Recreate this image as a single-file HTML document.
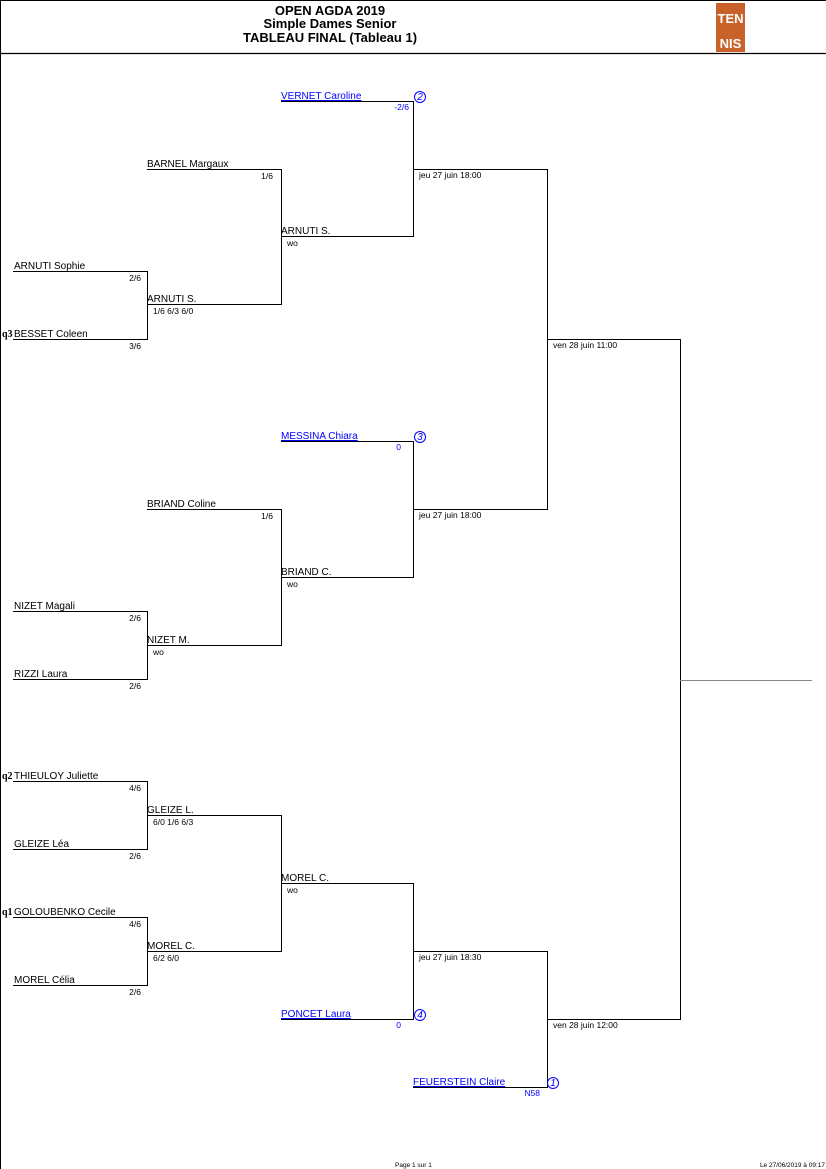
<!DOCTYPE html>
<html><head><meta charset="utf-8"><style>
body{margin:0;background:#fff}
svg{display:block}
text{font-family:"Liberation Sans",sans-serif;font-size:10px;fill:#000}
.s{font-size:8.5px}
.b{fill:#00f}
.h{font-weight:bold;font-size:13px}
</style></head><body>
<svg width="826" height="1169" viewBox="0 0 826 1169">
<g stroke="#000" stroke-width="1" fill="none">
<line x1="0.5" y1="0" x2="0.5" y2="1169"/>
<line x1="0" y1="0.5" x2="826" y2="0.5"/>
<line x1="0" y1="53.5" x2="826" y2="53.5" stroke-width="1.3"/>
<path d="M13 271.5H147.5V339.5H13M13 611.5H147.5V679.5H13M13 781.5H147.5V849.5H13M13 917.5H147.5V985.5H13"/>
<path d="M147 169.5H281.5V304.5H147M147 509.5H281.5V645.5H147M147 815.5H281.5V951.5H147"/>
<path d="M281 101.5H413.5V236.5H281M281 441.5H413.5V577.5H281M281 883.5H413.5V1019.5H281"/>
<path d="M413 169.5H547.5V509.5H413M413 951.5H547.5V1087.5H413"/>
<path d="M547 339.5H680.5V1019.5H547"/>
</g>
<line x1="680" y1="680.5" x2="812" y2="680.5" stroke="#888"/>
<rect x="716" y="3" width="29" height="49" fill="#c8622a"/>
<text x="730.5" y="23" text-anchor="middle" style="fill:#fff;font-weight:bold;font-size:13px">TEN</text>
<text x="730.5" y="48" text-anchor="middle" style="fill:#fff;font-weight:bold;font-size:13px">NIS</text>
<text class="h" x="330" y="15" text-anchor="middle">OPEN AGDA 2019</text>
<text class="h" x="330" y="28" text-anchor="middle">Simple Dames Senior</text>
<text class="h" x="330" y="42" text-anchor="middle">TABLEAU FINAL (Tableau 1)</text>

<text x="14" y="269">ARNUTI Sophie</text><text class="s" x="141" y="281" text-anchor="end">2/6</text>
<text x="14" y="337">BESSET Coleen</text><text class="s" x="141" y="349" text-anchor="end">3/6</text>
<text x="2" y="337" style="font-family:'Liberation Serif',serif;font-weight:bold;font-size:10px">q3</text>
<text x="14" y="609">NIZET Magali</text><text class="s" x="141" y="621" text-anchor="end">2/6</text>
<text x="14" y="677">RIZZI Laura</text><text class="s" x="141" y="689" text-anchor="end">2/6</text>
<text x="14" y="779">THIEULOY Juliette</text><text class="s" x="141" y="791" text-anchor="end">4/6</text>
<text x="2" y="779" style="font-family:'Liberation Serif',serif;font-weight:bold;font-size:10px">q2</text>
<text x="14" y="847">GLEIZE Léa</text><text class="s" x="141" y="859" text-anchor="end">2/6</text>
<text x="14" y="915">GOLOUBENKO Cecile</text><text class="s" x="141" y="927" text-anchor="end">4/6</text>
<text x="2" y="915" style="font-family:'Liberation Serif',serif;font-weight:bold;font-size:10px">q1</text>
<text x="14" y="983">MOREL Célia</text><text class="s" x="141" y="995" text-anchor="end">2/6</text>

<text x="147" y="167">BARNEL Margaux</text><text class="s" x="273" y="179" text-anchor="end">1/6</text>
<text x="147" y="302">ARNUTI S.</text><text class="s" x="153" y="314">1/6 6/3 6/0</text>
<text x="147" y="507">BRIAND Coline</text><text class="s" x="273" y="519" text-anchor="end">1/6</text>
<text x="147" y="643">NIZET M.</text><text class="s" x="153" y="655">wo</text>
<text x="147" y="813">GLEIZE L.</text><text class="s" x="153" y="825">6/0 1/6 6/3</text>
<text x="147" y="949">MOREL C.</text><text class="s" x="153" y="961">6/2 6/0</text>

<text class="b" x="281" y="99" text-decoration="underline">VERNET Caroline</text><text class="s b" x="409" y="110" text-anchor="end">-2/6</text>
<text x="281" y="234">ARNUTI S.</text><text class="s" x="287" y="246">wo</text>
<text class="b" x="281" y="439" text-decoration="underline">MESSINA Chiara</text><text class="s b" x="401" y="450" text-anchor="end">0</text>
<text x="281" y="575">BRIAND C.</text><text class="s" x="287" y="587">wo</text>
<text x="281" y="881">MOREL C.</text><text class="s" x="287" y="893">wo</text>
<text class="b" x="281" y="1017" text-decoration="underline">PONCET Laura</text><text class="s b" x="401" y="1028" text-anchor="end">0</text>

<text class="s" x="419" y="178">jeu 27 juin 18:00</text>
<text class="s" x="419" y="518">jeu 27 juin 18:00</text>
<text class="s" x="419" y="960">jeu 27 juin 18:30</text>
<text class="b" x="413" y="1085" text-decoration="underline">FEUERSTEIN Claire</text><text class="s b" x="540" y="1096" text-anchor="end">N58</text>
<text class="s" x="553" y="348">ven 28 juin 11:00</text>
<text class="s" x="553" y="1028">ven 28 juin 12:00</text>

<g fill="none" stroke="#00f"><circle cx="420" cy="97" r="5.5"/><circle cx="420" cy="437" r="5.5"/><circle cx="420" cy="1015" r="5.5"/><circle cx="553" cy="1083" r="5.5"/></g>
<g style="font-size:8px;font-style:italic" text-anchor="middle">
<text class="b" x="420" y="100">2</text><text class="b" x="420" y="440">3</text><text class="b" x="420" y="1018">4</text><text class="b" x="553" y="1086">1</text></g>

<text x="395" y="1167" style="font-size:6.5px">Page 1 sur 1</text>
<text x="825" y="1167" text-anchor="end" style="font-size:6.5px">Le 27/06/2019 à 09:17</text>
</svg>
</body></html>
